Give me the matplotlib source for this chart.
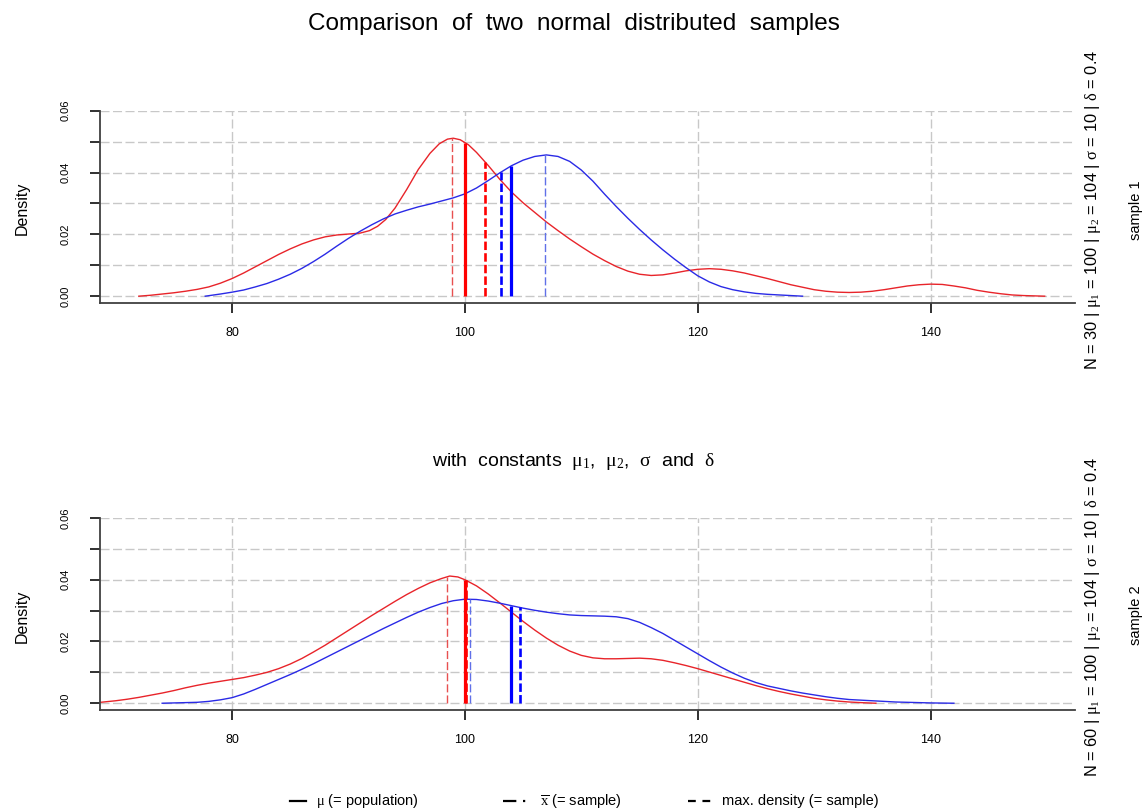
import numpy as np
import matplotlib
matplotlib.use("Agg")
import matplotlib.pyplot as plt
from matplotlib.lines import Line2D

plt.rcParams['font.family'] = ['Liberation Sans', 'DejaVu Sans']
plt.rcParams['mathtext.fontset'] = 'custom'
plt.rcParams['mathtext.rm'] = 'Liberation Serif'
plt.rcParams['mathtext.it'] = 'Liberation Serif'

# sample 1 (N = 30): density estimates
s1_red_x = [72, 73, 74, 75, 76, 77, 78, 79, 80, 81, 82, 83, 84, 85, 86, 87, 88, 89, 90, 91,
            91.8, 92.5, 93.2, 94, 95, 96, 97, 97.8, 98.5, 99, 99.6, 100.3, 101, 102, 103, 104,
            105, 106, 107, 108, 109, 110, 111, 112, 113, 114, 115, 116, 117, 118, 119, 120,
            121, 122, 123, 124, 125, 126, 127, 128, 129, 130, 131, 132, 133, 134, 135, 136,
            137, 138, 139, 140, 141, 142, 143, 144, 145, 146, 147, 148, 149.8]
s1_red_y = [0.0000, 0.0003, 0.0007, 0.0011, 0.0016, 0.0022, 0.0030, 0.0042, 0.0057, 0.0075,
            0.0095, 0.0115, 0.0135, 0.0153, 0.0169, 0.0182, 0.0192, 0.0198, 0.0201, 0.0204,
            0.0212, 0.0226, 0.0248, 0.0285, 0.0345, 0.0410, 0.0462, 0.0493, 0.0508, 0.0511,
            0.0506, 0.0490, 0.0465, 0.0423, 0.0378, 0.0337, 0.0302, 0.0271, 0.0240, 0.0212,
            0.0185, 0.0160, 0.0136, 0.0115, 0.0096, 0.0081, 0.0071, 0.0067, 0.0069, 0.0075,
            0.0082, 0.0087, 0.0089, 0.0087, 0.0082, 0.0075, 0.0066, 0.0057, 0.0047, 0.0037,
            0.0029, 0.0021, 0.0016, 0.0013, 0.0012, 0.0013, 0.0016, 0.0021, 0.0027, 0.0033,
            0.0037, 0.0039, 0.0038, 0.0033, 0.0027, 0.0019, 0.0013, 0.0008, 0.0004, 0.0002,
            0.0000]
s1_blue_x = [77.7, 79, 80, 81, 82, 83, 84, 85, 86, 87, 88, 89, 90, 91, 92, 93, 94, 95, 96,
             97, 98, 99, 100, 101, 102, 103, 104, 105, 106, 107, 108, 109, 110, 111, 112, 113,
             114, 115, 116, 117, 118, 119, 120, 121, 122, 123, 124, 125, 126, 127, 128, 129]
s1_blue_y = [0.0000, 0.0007, 0.0013, 0.0020, 0.0030, 0.0041, 0.0055, 0.0071, 0.0090, 0.0112,
             0.0136, 0.0162, 0.0187, 0.0210, 0.0231, 0.0250, 0.0266, 0.0278, 0.0289, 0.0298,
             0.0308, 0.0318, 0.0331, 0.0350, 0.0374, 0.0399, 0.0422, 0.0440, 0.0452, 0.0457,
             0.0452, 0.0436, 0.0408, 0.0372, 0.0330, 0.0290, 0.0252, 0.0216, 0.0182, 0.0150,
             0.0120, 0.0092, 0.0066, 0.0046, 0.0031, 0.0021, 0.0014, 0.0009, 0.0006, 0.0004,
             0.0002, 0.0000]

# sample 2 (N = 60)
s2_red_x = [68.7, 70, 71, 72, 73, 74, 75, 76, 77, 78, 79, 80, 81, 82, 83, 84, 85, 86, 87, 88,
            89, 90, 91, 92, 93, 94, 95, 96, 97, 98, 98.7, 99.4, 100, 101, 102, 103, 104, 105,
            106, 107, 108, 109, 110, 111, 112, 113, 114, 115, 116, 117, 118, 119, 120, 121,
            122, 123, 124, 125, 126, 127, 128, 129, 130, 131, 132, 133, 134, 135.3]
s2_red_y = [0.0003, 0.0008, 0.0013, 0.0019, 0.0026, 0.0033, 0.0041, 0.0050, 0.0058, 0.0065,
            0.0071, 0.0077, 0.0083, 0.0091, 0.0100, 0.0112, 0.0127, 0.0145, 0.0166, 0.0188,
            0.0212, 0.0236, 0.0260, 0.0284, 0.0307, 0.0330, 0.0352, 0.0372, 0.0390, 0.0404,
            0.0412, 0.0409, 0.0400, 0.0380, 0.0354, 0.0325, 0.0295, 0.0265, 0.0237, 0.0211,
            0.0188, 0.0169, 0.0155, 0.0147, 0.0144, 0.0144, 0.0145, 0.0146, 0.0144, 0.0139,
            0.0131, 0.0122, 0.0112, 0.0101, 0.0090, 0.0079, 0.0068, 0.0057, 0.0047, 0.0038,
            0.0030, 0.0023, 0.0016, 0.0011, 0.0007, 0.0004, 0.0002, 0.0000]
s2_blue_x = [74, 75, 76, 77, 78, 79, 80, 81, 82, 83, 84, 85, 86, 87, 88, 89, 90, 91, 92, 93,
             94, 95, 96, 97, 98, 99, 100, 101, 102, 103, 104, 105, 106, 107, 108, 109, 110,
             111, 112, 113, 114, 115, 116, 117, 118, 119, 120, 121, 122, 123, 124, 125, 126,
             127, 128, 129, 130, 131, 132, 133, 134, 135, 136, 137, 138, 140, 142]
s2_blue_y = [0.0000, 0.0001, 0.0002, 0.0003, 0.0006, 0.0011, 0.0018, 0.0030, 0.0045, 0.0061,
             0.0077, 0.0093, 0.0110, 0.0128, 0.0147, 0.0166, 0.0185, 0.0204, 0.0223, 0.0242,
             0.0260, 0.0278, 0.0295, 0.0310, 0.0323, 0.0332, 0.0337, 0.0336, 0.0331, 0.0324,
             0.0316, 0.0308, 0.0301, 0.0295, 0.0290, 0.0286, 0.0284, 0.0283, 0.0282, 0.0280,
             0.0274, 0.0262, 0.0245, 0.0226, 0.0204, 0.0182, 0.0160, 0.0138, 0.0117, 0.0098,
             0.0081, 0.0067, 0.0056, 0.0048, 0.0040, 0.0033, 0.0027, 0.0021, 0.0016, 0.0012,
             0.0010, 0.0008, 0.0006, 0.0004, 0.0003, 0.0001, 0.0000]

# vertical markers: [red, blue]
mu = [100, 104]
s1_xbar = [101.7, 103.1]
s1_mode = [98.9, 106.9]
s2_xbar = [100.1, 104.7]
s2_mode = [98.5, 100.4]

s1_info = r"N = 30 | $\mu_1$ = 100 | $\mu_2$ = 104 | $\sigma$ = 10 | $\delta$ = 0.4"
s2_info = r"N = 60 | $\mu_1$ = 100 | $\mu_2$ = 104 | $\sigma$ = 10 | $\delta$ = 0.4"

RED = '#ff0000'
BLUE = '#0000ff'
CURVE_RED = '#e8242a'
CURVE_BLUE = '#2a2ae6'

fig = plt.figure(figsize=(11.48, 8.11), dpi=100)


def panel(rect, rx, ry, bx, by, xbar, mode, info, name, info_y, name_y):
    ax = fig.add_axes(rect)
    ax.set_xlim(68.66, 152.4)
    ax.set_ylim(-0.0022, 0.06)

    # grid
    for v in [80, 100, 120, 140]:
        ax.axvline(v, color='#c8c8c8', lw=1, dashes=(6.5, 2.5), zorder=0)
    for v in np.arange(0, 0.061, 0.01):
        ax.axhline(v, color='#c8c8c8', lw=1, dashes=(6.5, 2.5), zorder=0)

    ax.plot(rx, ry, color=CURVE_RED, lw=1.0)
    ax.plot(bx, by, color=CURVE_BLUE, lw=1.0)

    for xs, ys, c, lc in [(rx, ry, 0, RED), (bx, by, 1, BLUE)]:
        thin = '#e85050' if c == 0 else '#6070e8'
        h = np.interp(mode[c], xs, ys)
        ax.vlines(mode[c], 0, h, color=thin, lw=1.0, linestyles=(0, (5.8, 2.2)))
        h = np.interp(mu[c], xs, ys)
        ax.vlines(mu[c], 0, h, color=lc, lw=2.3)
        h = np.interp(xbar[c], xs, ys)
        ax.vlines(xbar[c], 0, h, color=lc, lw=1.9, linestyles=(0, (3.2, 1.2)))

    for s in ['top', 'right']:
        ax.spines[s].set_visible(False)
    for s in ['left', 'bottom']:
        ax.spines[s].set_color('#404040')
        ax.spines[s].set_linewidth(1.3)

    ax.set_xticks([80, 100, 120, 140])
    ax.set_yticks(np.arange(0, 0.061, 0.01))
    ax.set_yticklabels(['0.00', '', '0.02', '', '0.04', '', '0.06'])
    ax.tick_params(axis='both', length=7, width=1.3, color='#202020', labelsize=8)
    ax.tick_params(axis='y', pad=14)
    ax.tick_params(axis='x', pad=10, labelsize=9)
    for lab in ax.get_yticklabels():
        lab.set_rotation(90)
        lab.set_va('center')
    ax.set_ylabel('Density', fontsize=11.5)
    ax.yaxis.set_label_coords(-0.072, 0.49)

    fig.text(1093 / 1148, 1 - info_y / 811, info, rotation=90, fontsize=11.8,
             ha='center', va='center')
    fig.text(1136 / 1148, 1 - name_y / 811, name, rotation=90, fontsize=10.5,
             ha='center', va='center')
    return ax


panel([0.0871, 0.6264, 0.8493, 0.2371], s1_red_x, s1_red_y, s1_blue_x, s1_blue_y,
      s1_xbar, s1_mode, s1_info, 'sample 1', 210, 210)
panel([0.0871, 0.1245, 0.8493, 0.2368], s2_red_x, s2_red_y, s2_blue_x, s2_blue_y,
      s2_xbar, s2_mode, s2_info, 'sample 2', 617, 615)

fig.text(0.5, 1 - 24 / 811, 'Comparison  of  two  normal  distributed  samples',
         fontsize=17.5, ha='center', va='center')
fig.text(0.5, 1 - 461 / 811, r'with  constants  $\mu_1$,  $\mu_2$,  $\sigma$  and  $\delta$',
         fontsize=14, ha='center', va='center')

# legend along the bottom
ly = 1 - 801 / 811
entries = [((290, 306), {'ls': '-'}, 316, r'$\mu$ (= population)'),
           ((503, 530), {'dashes': (6, 3, 1, 3)}, 540, r'$\overline{\mathrm{x}}$ (= sample)'),
           ((688, 712), {'dashes': (3.5, 3)}, 722, 'max. density (= sample)')]
for (x0, x1), style, tx, label in entries:
    fig.add_artist(Line2D([x0 / 1148, x1 / 1148], [ly, ly], color='black', lw=1.6,
                          transform=fig.transFigure, **style))
    fig.text(tx / 1148, ly, label, fontsize=10.5, ha='left', va='center')

fig.savefig('out.png', dpi=100)
